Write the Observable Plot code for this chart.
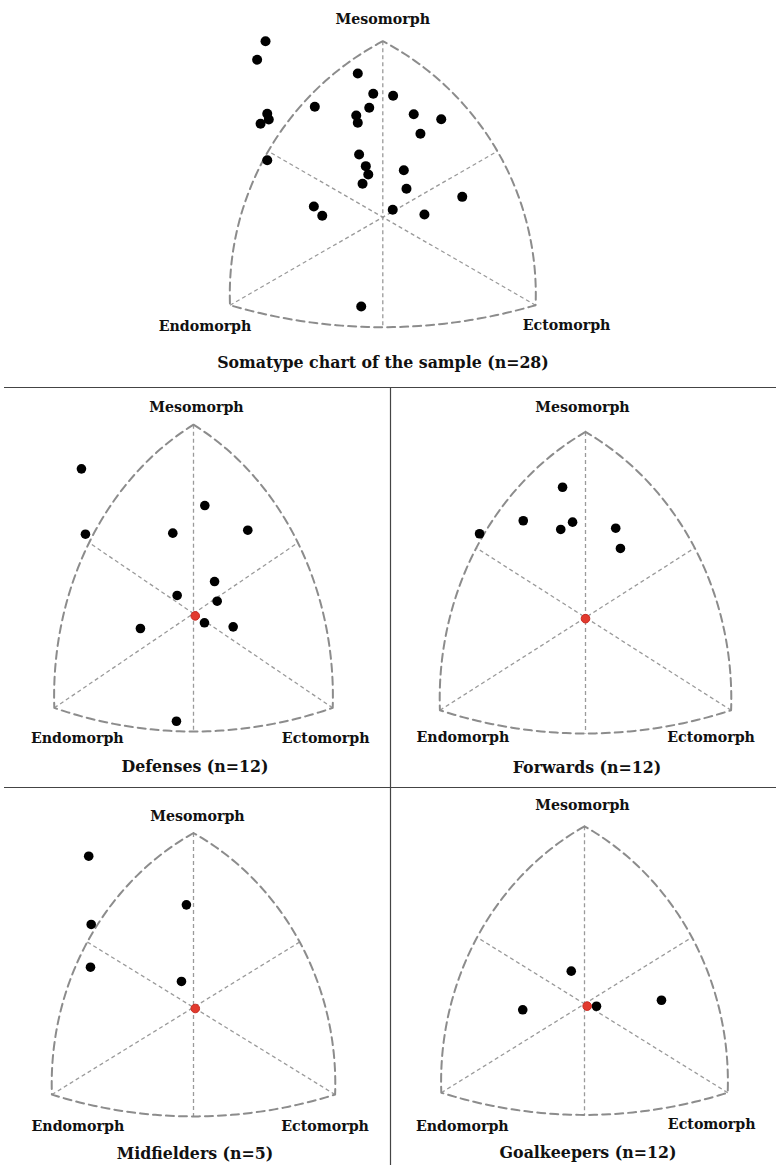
<!DOCTYPE html>
<html><head><meta charset="utf-8">
<script src="https://cdn.jsdelivr.net/npm/d3@7"></script>
<script src="https://cdn.jsdelivr.net/npm/@observablehq/plot@0.6"></script>
<style>
body{margin:0;background:#fff;}
#page{position:relative;width:776px;height:1165px;overflow:hidden;}
#page svg{position:absolute;}
</style></head><body><div id="page"></div>
<script>
// ---- Somatochart frame (X = ecto - endo, Y = 2*meso - endo - ecto) ----
const vertexNames = ["Mesomorph", "Endomorph", "Ectomorph"];
const vertexX = [0, -8, 8];
const vertexY = [16, -8, -8];
// arc mid-points: Meso–Endo, Endo–Ecto, Ecto–Meso
const arcMidX = [-6, 0, 6];
const arcMidY = [6, -10, 6];

// ---- Data (somatochart X, Y) ----
const sampleX = [-6.14,-6.58,-1.31,-0.50,0.54,-3.56,-0.71,-6.05,-5.97,-6.40,-1.39,-1.31,1.62,3.06,1.97,-6.05,-1.24,-0.89,-0.76,-1.06,1.10,1.24,4.16,-3.61,-3.17,0.52,2.18,-1.13];
const sampleY = [16.0,14.31,13.06,11.22,11.04,10.04,9.95,9.40,8.88,8.49,9.25,8.58,9.36,8.91,7.58,5.18,5.70,4.64,3.88,3.04,4.27,2.58,1.85,0.97,0.13,0.67,0.25,-8.12];

const defensesX = [-6.44,-6.21,0.65,-1.19,3.12,1.21,-0.94,1.36,0.63,-3.05,2.28,-0.98];
const defensesY = [12.26,6.72,9.15,6.81,7.06,2.71,1.53,1.04,-0.79,-1.27,-1.13,-9.13];
const defensesMean = [0.1, -0.2];

const forwardsX = [-1.26,-3.42,-0.71,-1.36,-5.82,1.66,1.92];
const forwardsY = [11.23,8.34,8.22,7.59,7.22,7.70,5.95];
const forwardsMean = [0.0, -0.1];

const midfieldersX = [-5.92,-0.40,-5.78,-5.82,-0.68];
const midfieldersY = [13.87,9.41,7.61,3.69,2.38];
const midfieldersMean = [0.1, -0.1];

const goalkeepersX = [-0.74,-3.45,0.67,4.30];
const goalkeepersY = [2.95,-0.53,-0.21,0.33];
const goalkeepersMean = [0.15, -0.2];

const titles = ["Somatype chart of the sample (n=28)", "Defenses (n=12)", "Forwards (n=12)", "Midfielders (n=5)", "Goalkeepers (n=12)"];

const FONT = "'DejaVu Serif', serif";
const S3 = Math.sqrt(3);

function arcPoints(p1, pm, p2, n = 60) {
  const ax = p1[0]*S3, ay = p1[1], bx = pm[0]*S3, by = pm[1], cx = p2[0]*S3, cy = p2[1];
  const d = 2*(ax*(by-cy)+bx*(cy-ay)+cx*(ay-by));
  const ux = ((ax*ax+ay*ay)*(by-cy)+(bx*bx+by*by)*(cy-ay)+(cx*cx+cy*cy)*(ay-by))/d;
  const uy = ((ax*ax+ay*ay)*(cx-bx)+(bx*bx+by*by)*(ax-cx)+(cx*cx+cy*cy)*(bx-ax))/d;
  const r = Math.hypot(ax-ux, ay-uy);
  const TAU = 2*Math.PI, mod = a => ((a % TAU) + TAU) % TAU;
  const a1 = Math.atan2(ay-uy, ax-ux), am = Math.atan2(by-uy, bx-ux), a2 = Math.atan2(cy-uy, cx-ux);
  let span = mod(a2-a1);
  if (mod(am-a1) > span) span -= TAU;
  return d3.range(n+1).map(i => {
    const a = a1 + span*i/n;
    return {x: (ux + r*Math.cos(a))/S3, y: uy + r*Math.sin(a)};
  });
}

const V = vertexX.map((x, i) => [x, vertexY[i]]);
const A = arcMidX.map((x, i) => [x, arcMidY[i]]);
const outline = [
  ...arcPoints(V[0], A[0], V[1]),
  ...arcPoints(V[1], A[1], V[2]).slice(1),
  ...arcPoints(V[2], A[2], V[0]).slice(1)
];
// inner axes: Meso -> bottom arc, Endo -> right arc, Ecto -> left arc
const axes = [
  {x1: V[0][0], y1: V[0][1], x2: A[1][0], y2: A[1][1]},
  {x1: V[1][0], y1: V[1][1], x2: A[2][0], y2: A[2][1]},
  {x1: V[2][0], y1: V[2][1], x2: A[0][0], y2: A[0][1]}
];
const vertexLabels = vertexNames.map((name, i) => ({name, x: vertexX[i], y: vertexY[i]}));

const page = document.getElementById("page");

function panel(cfg) {
  const {left, top, width, height, cx, cy, sx, sy, xs, ys, mean, offsets, r} = cfg;
  const pts = xs.map((x, i) => ({x, y: ys[i]}));
  const marks = [
    Plot.link(axes, {x1: "x1", y1: "y1", x2: "x2", y2: "y2", stroke: "#9a9a9a", strokeWidth: 1.3, strokeDasharray: "4,3"}),
    Plot.line(outline, {x: "x", y: "y", stroke: "#8c8c8c", strokeWidth: 2, strokeDasharray: "8,5"}),
    Plot.dot(pts, {x: "x", y: "y", r, fill: "#000"})
  ];
  if (mean) marks.push(Plot.dot([{x: mean[0], y: mean[1]}], {x: "x", y: "y", r: 4.3, fill: "#e23a2e", stroke: "#c82a22", strokeWidth: 1}));
  vertexLabels.forEach((v, i) => {
    marks.push(Plot.text([v], {x: "x", y: "y", text: "name", dx: offsets[i][0], dy: offsets[i][1],
      textAnchor: "middle", lineAnchor: "bottom", fontFamily: FONT, fontWeight: "bold", fontSize: 14.2, fill: "#111"}));
  });
  const svg = Plot.plot({
    width, height, margin: 0,
    x: {domain: [(0 - cx)/sx, (width - cx)/sx], range: [0, width], axis: null},
    y: {domain: [(cy - height)/sy, cy/sy], range: [height, 0], axis: null},
    style: {background: "transparent", overflow: "visible"},
    marks
  });
  svg.style.left = left + "px";
  svg.style.top = top + "px";
  page.appendChild(svg);
}

panel({left: 0, top: 0, width: 776, height: 345, cx: 382.3, cy: 216.7, sx: 19.1, sy: 11,
  xs: sampleX, ys: sampleY, mean: null, r: 5, offsets: [[0,-17],[-25,26],[31,25]]});
panel({left: 0, top: 388, width: 389, height: 365, cx: 193, cy: 225, sx: 17.4, sy: 11.8,
  xs: defensesX, ys: defensesY, mean: defensesMean, r: 4.8, offsets: [[3,-13],[23,35],[-7,35]]});
panel({left: 391, top: 388, width: 385, height: 365, cx: 194, cy: 229, sx: 18.2, sy: 11.6,
  xs: forwardsX, ys: forwardsY, mean: forwardsMean, r: 4.8, offsets: [[-3,-20],[23,32],[-20,32]]});
panel({left: 0, top: 788, width: 389, height: 355, cx: 193, cy: 218.9, sx: 17.7, sy: 10.9,
  xs: midfieldersX, ys: midfieldersY, mean: midfieldersMean, r: 4.8, offsets: [[4,-12],[26,36],[-10,36]]});
panel({left: 391, top: 788, width: 385, height: 355, cx: 193, cy: 215.4, sx: 17.9, sy: 11.1,
  xs: goalkeepersX, ys: goalkeepersY, mean: goalkeepersMean, r: 4.8, offsets: [[-2,-16],[21,38],[-16,36]]});

// titles and separator rules
const over = d3.create("svg").attr("width", 776).attr("height", 1165).style("left", "0px").style("top", "0px");
over.append("line").attr("x1", 4).attr("x2", 776).attr("y1", 387.5).attr("y2", 387.5).attr("stroke", "#444").attr("stroke-width", 1.2);
over.append("line").attr("x1", 4).attr("x2", 776).attr("y1", 787.5).attr("y2", 787.5).attr("stroke", "#444").attr("stroke-width", 1.2);
over.append("line").attr("x1", 390.5).attr("x2", 390.5).attr("y1", 387).attr("y2", 1165).attr("stroke", "#444").attr("stroke-width", 1.2);
const titlePos = [[383, 368], [195, 772], [587, 773], [195, 1159], [588, 1158]];
titles.forEach((t, i) => {
  over.append("text").attr("x", titlePos[i][0]).attr("y", titlePos[i][1]).attr("text-anchor", "middle")
    .attr("font-family", FONT).attr("font-weight", "bold").attr("font-size", 15.8).attr("fill", "#111").text(t);
});
page.insertBefore(over.node(), page.firstChild);
</script>
</body></html>
